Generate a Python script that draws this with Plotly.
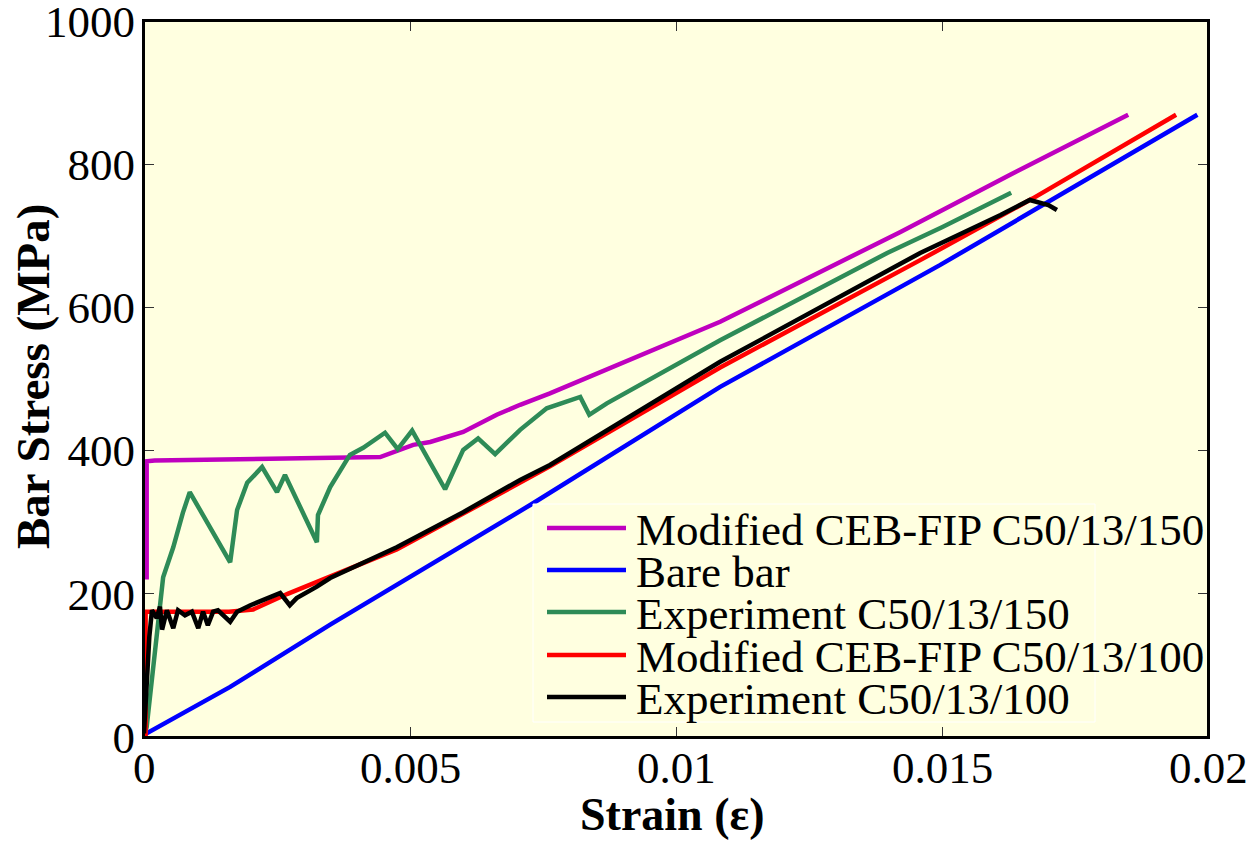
import plotly.graph_objects as go

# ---------------- data ----------------
ceb150_strain = [0.00005, 0.00005, 0.0002, 0.00444, 0.00506, 0.00538, 0.0060, 0.00663,
                 0.00707, 0.00763, 0.01083, 0.01352, 0.01421, 0.0163, 0.0185]
ceb150_stress = [220, 385, 386, 391, 408, 412, 426, 450,
                 464, 480, 580, 680, 705, 786, 869]

bare_strain = [0.0, 0.00162, 0.0035, 0.00726, 0.01083, 0.01496, 0.0198]
bare_stress = [3, 70, 157, 324, 489, 659, 869]

exp150_strain = [0.0, 0.00005, 0.00036, 0.00055, 0.00073, 0.00086, 0.00162, 0.00175,
                 0.00194, 0.00222, 0.0025, 0.00265, 0.00325, 0.00327, 0.0035, 0.00387,
                 0.00412, 0.00453, 0.00477, 0.00504, 0.00566, 0.0060, 0.00628, 0.0066,
                 0.00707, 0.00757, 0.0082, 0.00837, 0.0087, 0.01083, 0.01397, 0.0150,
                 0.0163]
exp150_stress = [0, 14, 223, 265, 313, 342, 244, 317,
                 355, 377, 342, 366, 272, 310, 349, 394,
                 404, 425, 402, 428, 346, 401, 417, 395,
                 429, 459, 475, 450, 466, 554, 676, 712,
                 760]

ceb100_strain = [0.00003, 0.00003, 0.0016, 0.00205, 0.0027, 0.00475, 0.0060, 0.00707,
                 0.00763, 0.01083, 0.01459, 0.0167, 0.0194]
ceb100_stress = [0, 175, 175, 178, 200, 262, 312, 355,
                 378, 516, 666, 752, 869]

exp100_strain = [0.0, 0.0001, 0.00015, 0.00024, 0.0003, 0.00034, 0.00043, 0.00055,
                 0.00064, 0.00077, 0.0009, 0.00102, 0.00111, 0.0012, 0.0013, 0.00139,
                 0.00162, 0.00175, 0.002, 0.00224, 0.00256, 0.00274, 0.00287, 0.00325,
                 0.0035, 0.00475, 0.0060, 0.00707, 0.00763, 0.01083, 0.01459, 0.0161,
                 0.01665, 0.0170, 0.01716]
exp100_stress = [5, 140, 177, 166, 182, 150, 177, 152,
                 177, 170, 175, 152, 175, 156, 175, 177,
                 161, 175, 184, 191, 201, 184, 194, 210,
                 222, 265, 314, 359, 380, 524, 676, 729,
                 750, 743, 736]

series_names = ["Modified CEB-FIP C50/13/150", "Bare bar", "Experiment C50/13/150",
                "Modified CEB-FIP C50/13/100", "Experiment C50/13/100"]
series_colors = ["#BF00BF", "#0000FF", "#2E8B57", "#FF0000", "#000000"]

x_tick_vals = [0, 0.005, 0.01, 0.015, 0.02]
x_tick_text = ["0", "0.005", "0.01", "0.015", "0.02"]
y_tick_vals = [0, 200, 400, 600, 800, 1000]
y_tick_text = ["0", "200", "400", "600", "800", "1000"]

# ---------------- figure ----------------
FONT = "Liberation Serif"
BG = "#FFFFE0"

fig = go.Figure()
order = [1, 0, 2, 3, 4]
data = [(ceb150_strain, ceb150_stress), (bare_strain, bare_stress),
        (exp150_strain, exp150_stress), (ceb100_strain, ceb100_stress),
        (exp100_strain, exp100_stress)]
for i in order:
    xs, ys = data[i]
    fig.add_trace(go.Scatter(x=xs, y=ys, mode="lines", name=series_names[i],
                             line=dict(color=series_colors[i], width=4.5),
                             showlegend=False))

# manual legend (MATLAB-style tight line spacing)
lx0, lx1 = 547, 626
ltext = 634
rows = [528, 570, 612, 655, 697]
L, T, W, H = 144, 21, 1064, 716


def px(xp):
    return (xp - L) / W


def py(yp):
    return (T + H - yp) / H


shapes = [dict(type="rect", xref="paper", yref="paper",
               x0=px(533), x1=px(1095), y0=py(722), y1=py(504),
               line=dict(color="#FFFFFF", width=1), fillcolor=BG, layer="above")]
annotations = []
for k, (name, col) in enumerate(zip(series_names, series_colors)):
    shapes.append(dict(type="line", xref="paper", yref="paper",
                       x0=px(lx0), x1=px(lx1), y0=py(rows[k]), y1=py(rows[k]),
                       line=dict(color=col, width=4.5), layer="above"))
    annotations.append(dict(text=name, xref="paper", yref="paper",
                            x=px(ltext), y=py(rows[k] + 2), xanchor="left", yanchor="middle",
                            showarrow=False, font=dict(family=FONT, size=45, color="black")))

# plot frame
shapes.append(dict(type="rect", xref="paper", yref="paper", x0=0, x1=1, y0=0, y1=1,
                   line=dict(color="black", width=2), layer="above"))

# x tick labels (placed on the x scale, slightly closer to the axis than plotly's default)
for v, t in zip(x_tick_vals, x_tick_text):
    annotations.append(dict(text=t, xref="x", yref="paper", x=v, y=py(768),
                            xanchor="center", yanchor="middle", showarrow=False,
                            font=dict(family=FONT, size=45, color="black")))

annotations.append(dict(text="<b>Strain (ε)</b>", xref="paper", yref="paper",
                        x=px(672), y=py(814), xanchor="center", yanchor="middle",
                        showarrow=False, font=dict(family=FONT, size=46, color="black")))
annotations.append(dict(text="<b>Bar Stress (MPa)</b>", xref="paper", yref="paper",
                        x=px(33), y=py(377), xanchor="center", yanchor="middle",
                        textangle=-90, showarrow=False,
                        font=dict(family=FONT, size=47, color="black")))

axis_common = dict(showgrid=False, zeroline=False, showline=True, linecolor="black",
                   linewidth=2, mirror="ticks", ticks="inside", ticklen=10,
                   tickcolor="#333333", tickwidth=1, automargin=False,
                   ticklabeloverflow="allow",
                   tickfont=dict(family=FONT, size=45, color="black"))

fig.update_layout(
    width=1257, height=841,
    margin=dict(l=144, r=49, t=21, b=104),
    paper_bgcolor="white", plot_bgcolor=BG,
    xaxis=dict(range=[0, 0.02], tickvals=x_tick_vals, ticktext=x_tick_text,
               showticklabels=False, **axis_common),
    yaxis=dict(range=[0, 1000], tickvals=y_tick_vals, ticktext=y_tick_text,
               ticklabelstandoff=-2, **axis_common),
    shapes=shapes, annotations=annotations, showlegend=False,
)

fig.write_html("out.html")
